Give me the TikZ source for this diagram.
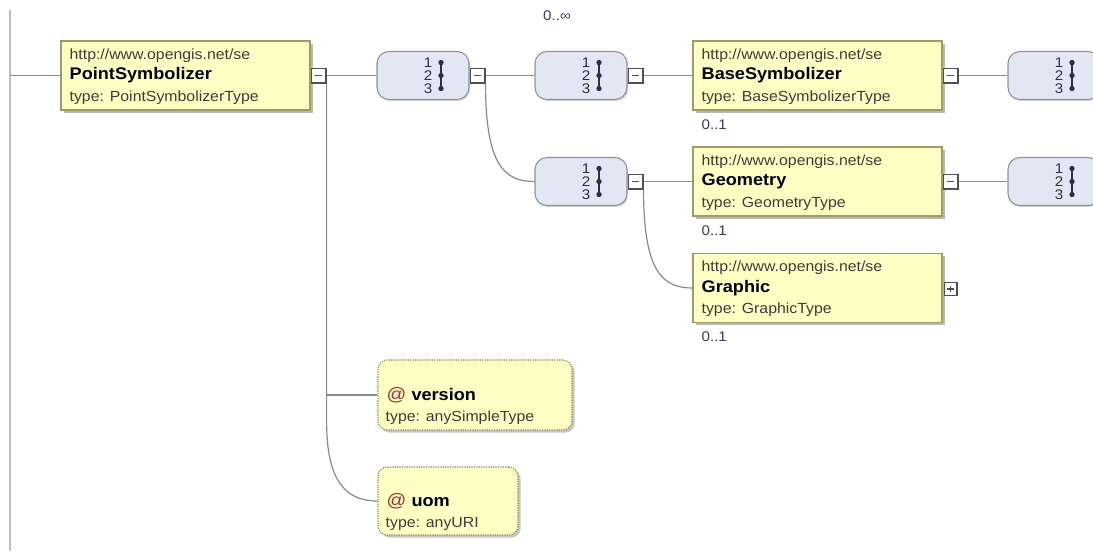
\documentclass[tikz,border=0pt]{standalone}
\usepackage{fontspec}
\setmainfont{Liberation Sans}[FakeStretch=1.08]
\usetikzlibrary{shadows}

\definecolor{elemfill}{HTML}{FFFFC4}
\definecolor{elemline}{HTML}{A09A6A}
\definecolor{seqfill}{HTML}{E3E7F3}
\definecolor{seqline}{HTML}{8E909C}
\definecolor{wire}{HTML}{8A8A8A}
\definecolor{railgray}{HTML}{BDBDBD}
\definecolor{nscol}{HTML}{463838}
\definecolor{occol}{HTML}{3A3A66}
\definecolor{atcol}{HTML}{A3302E}
\definecolor{digcol}{HTML}{2E2E4A}
\definecolor{ctrlcol}{HTML}{505050}

\tikzset{
  elem/.style={draw=elemline, line width=0.9pt, fill=elemfill,
    minimum width=186.75pt, minimum height=51.75pt, inner sep=0pt,
    drop shadow={shadow xshift=2.2pt, shadow yshift=-2.2pt, fill=black!28, opacity=1}},
  attr/.style={draw=elemline!85!black, dash pattern=on 0.9pt off 0.9pt,
    line width=0.8pt, fill=elemfill, rounded corners=7pt, inner sep=0pt,
    drop shadow={shadow xshift=2pt, shadow yshift=-2pt, fill=black!22, opacity=1}},
  seqbox/.style={draw=seqline, line width=0.8pt, fill=seqfill, rounded corners=9pt,
    minimum width=69pt, minimum height=36pt, inner sep=0pt,
    drop shadow={shadow xshift=0.9pt, shadow yshift=-1.2pt, fill=black!16, opacity=1}},
  ctrlbase/.style={draw=ctrlcol, line width=1pt, fill=white, inner sep=0pt, anchor=west},
  ctrlminus/.style={ctrlbase, minimum size=11pt,
    path picture={\draw[ctrlcol, line width=1pt]
      ([xshift=2.6pt]path picture bounding box.west) --
      ([xshift=-2.6pt]path picture bounding box.east);}},
  ctrlplus/.style={ctrlbase, minimum size=9.5pt,
    path picture={\draw[ctrlcol, line width=0.8pt]
      ([xshift=2.2pt]path picture bounding box.west) --
      ([xshift=-2.2pt]path picture bounding box.east)
      ([yshift=2.2pt]path picture bounding box.south) --
      ([yshift=-2.2pt]path picture bounding box.north);}},
  wireline/.style={draw=wire, line width=0.9pt},
  railline/.style={draw=railgray, line width=1.6pt},
  nstext/.style={font=\fontsize{11}{13}\selectfont, text=nscol, anchor=west, inner sep=0pt},
  nametext/.style={font=\fontsize{12.6}{14}\selectfont\bfseries, text=black, anchor=west, inner sep=0pt},
  typetext/.style={font=\fontsize{11}{13}\selectfont, text=nscol, anchor=west, inner sep=0pt},
  occtext/.style={font=\fontsize{10.5}{12}\selectfont, text=occol, inner sep=0pt},
  digit/.style={font=\fontsize{10.5}{11}\selectfont, text=digcol, inner sep=0pt},
}

% element box: id, x, y, namespace, name, type
\newcommand\elemnode[6]{%
  \node[elem] (#1) at (#2,#3) {};
  \node[nstext] (#1-ns) at ([shift={(9,-20)}]#1.west) {#4};
  \node[nametext] (#1-name) at ([shift={(9,0)}]#1.west) {#5};
  \node[typetext] (#1-type) at ([shift={(9,22)}]#1.west) {#6};
}

% sequence compositor: id, x, y
\newcommand\seqgroup[3]{%
  \node[seqbox] (#1) at (#2,#3) {};
  \node[digit] (#1-a) at ([shift={(5,-13)}]#1.center) {1};
  \node[digit] (#1-b) at ([shift={(5,0)}]#1.center) {2};
  \node[digit] (#1-c) at ([shift={(5,13)}]#1.center) {3};
  \coordinate (#1-top) at ([shift={(18,-13)}]#1.center);
  \coordinate (#1-mid) at ([shift={(18,0)}]#1.center);
  \coordinate (#1-bot) at ([shift={(18,13)}]#1.center);
  \draw[digcol, line width=1pt] (#1-top) -- (#1-bot);
  \foreach \p in {top,mid,bot} \fill[digcol] (#1-\p) circle (2pt);
}

\begin{document}
\begin{tikzpicture}[x=0.75pt,y=-0.75pt]
\useasboundingbox (0,0) rectangle (1093,551);
\clip (0,0) rectangle (1093,551);

% left rail
\coordinate (railtop) at (10,10);
\coordinate (railbot) at (10,551);
\draw[railline] (railtop) -- (railbot);

% root element
\elemnode{ps}{185.5}{75.5}{http://www.opengis.net/se}{PointSymbolizer}{type: PointSymbolizerType}
\node[ctrlminus] (psm) at (ps.east) {};

% sequences
\seqgroup{sqa}{423}{75.5}
\node[ctrlminus] (sqam) at (sqa.east) {};
\seqgroup{sqb}{581}{75.5}
\node[ctrlminus] (sqbm) at (sqb.east) {};
\seqgroup{sqc}{581}{181.5}
\node[ctrlminus] (sqcm) at (sqc.east) {};
\node[occtext] (sqocc) at (557,16) {0..∞};

% child elements
\elemnode{base}{817.5}{75.5}{http://www.opengis.net/se}{BaseSymbolizer}{type: BaseSymbolizerType}
\node[ctrlminus] (basem) at (base.east) {};
\node[occtext, anchor=west] (base-occ) at ([shift={(9,14)}]base.south west) {0..1};

\elemnode{geom}{817.5}{181.5}{http://www.opengis.net/se}{Geometry}{type: GeometryType}
\node[ctrlminus] (geomm) at (geom.east) {};
\node[occtext, anchor=west] (geom-occ) at ([shift={(9,14)}]geom.south west) {0..1};

\elemnode{graph}{817.5}{288}{http://www.opengis.net/se}{Graphic}{type: GraphicType}
\node[ctrlplus] (graphp) at ([shift={(1,1)}]graph.east) {};
\node[occtext, anchor=west] (graph-occ) at ([shift={(9,14)}]graph.south west) {0..1};

% nested sequences on the right
\seqgroup{sqd}{1054}{75.5}
\seqgroup{sqe}{1054}{181.5}

% attributes
\node[attr, minimum width=145.5pt, minimum height=52.5pt] (ver) at (475,395) {};
\node[nametext] (ver-name) at ([shift={(9,0)}]ver.west)
  {{\color{atcol}\mdseries\fontsize{13.5}{14}\selectfont @} version};
\node[typetext] (ver-type) at ([shift={(8,23)}]ver.west) {type: anySimpleType};

\node[attr, minimum width=105pt, minimum height=51pt] (uom) at (448,501) {};
\node[nametext] (uom-name) at ([shift={(9,0)}]uom.west)
  {{\color{atcol}\mdseries\fontsize{13.5}{14}\selectfont @} uom};
\node[typetext] (uom-type) at ([shift={(8,23)}]uom.west) {type: anyURI};

% connectors
\draw[wireline] (ps.west -| railtop) -- (ps.west);
\draw[wireline] (psm.east) -- (sqa.west);
\draw[wireline] (psm.south east) |- (ver.west);
\draw[wireline] (psm.south east) -- ++(0,338) .. controls +(0,58) and +(-33,0) .. (uom.west);
\draw[wireline] (sqam.east) -- (sqb.west);
\draw[wireline] (sqam.south east) .. controls +(0,82) and +(-30,0) .. (sqc.west);
\draw[wireline] (sqbm.east) -- (base.west);
\draw[wireline] (sqcm.east) -- (geom.west);
\draw[wireline] (sqcm.south east) .. controls +(0,82) and +(-30,0) .. (graph.west);
\draw[wireline] (basem.east) -- (sqd.west);
\draw[wireline] (geomm.east) -- (sqe.west);
\end{tikzpicture}
\end{document}
